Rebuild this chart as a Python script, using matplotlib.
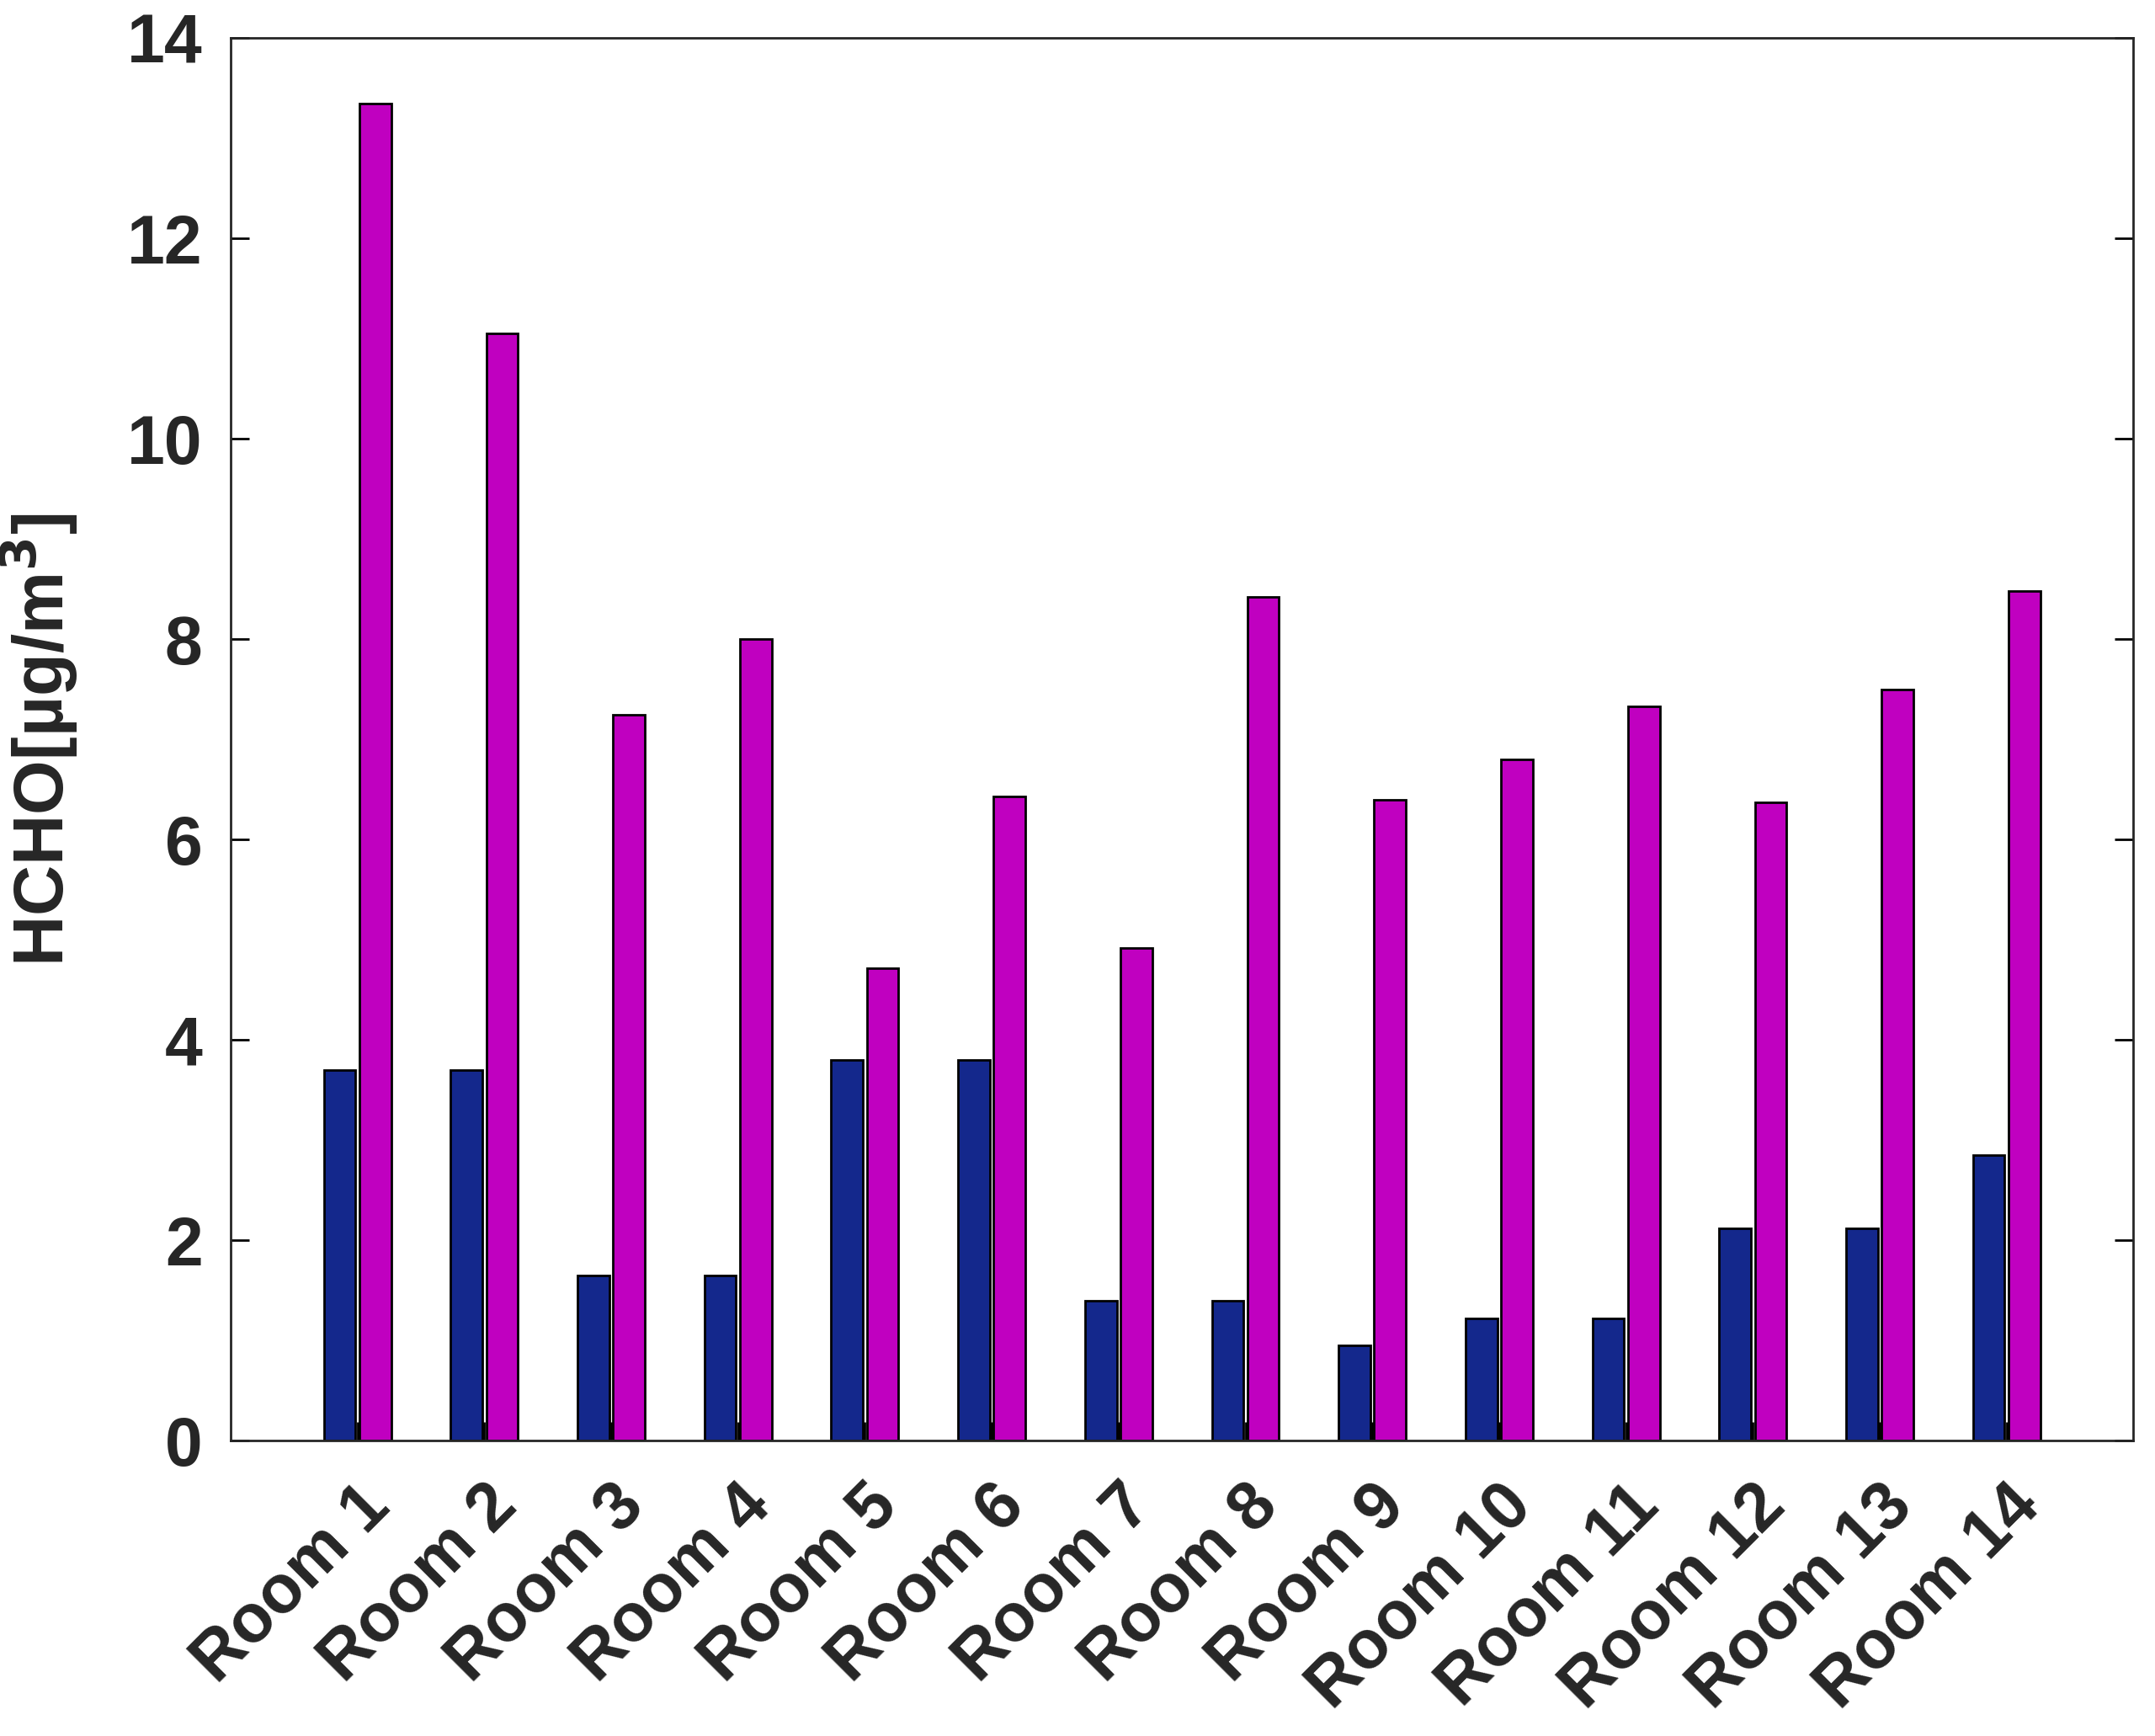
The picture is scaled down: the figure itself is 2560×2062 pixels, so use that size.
import matplotlib.pyplot as plt
import numpy as np

rooms = [f"Room {i}" for i in range(1, 15)]
blue_vals = [3.7, 3.7, 1.65, 1.65, 3.8, 3.8, 1.4, 1.4, 0.95, 1.22, 1.22, 2.12, 2.12, 2.85]
magenta_vals = [13.35, 11.05, 7.25, 8.0, 4.72, 6.43, 4.92, 8.42, 6.4, 6.8, 7.33, 6.37, 7.5, 8.48]

plt.rcParams['font.family'] = ['Liberation Sans', 'DejaVu Sans']

fig = plt.figure(figsize=(12.8, 10.31), dpi=200)
ax = fig.add_axes([0.107, 0.17, 0.883, 0.808])

x = np.arange(1, 15)
ax.bar(x - 0.14, blue_vals, width=0.25, color="#14288C", edgecolor="black", linewidth=1)
ax.bar(x + 0.14, magenta_vals, width=0.25, color="#C000C0", edgecolor="black", linewidth=1)

ax.set_xlim(0, 15)
ax.set_ylim(0, 14)
ax.set_yticks(range(0, 15, 2))
ax.set_xticks(x)
ax.set_xticklabels(rooms, rotation=45, ha="right", rotation_mode="anchor")
ax.tick_params(direction="in", length=8, width=1, labelsize=29, right=True, top=False)
ax.tick_params(axis="x", pad=14)
ax.tick_params(axis="y", pad=12)
for lbl in ax.get_xticklabels() + ax.get_yticklabels():
    lbl.set_fontweight("bold")
    lbl.set_color("#262626")
ax.set_ylabel(r"HCHO[µg/m$^\mathbf{3}$]", fontsize=30, fontweight="bold", color="#262626", labelpad=20)
for s in ax.spines.values():
    s.set_linewidth(1)
    s.set_color("#262626")

fig.savefig("out.png", dpi=200)
